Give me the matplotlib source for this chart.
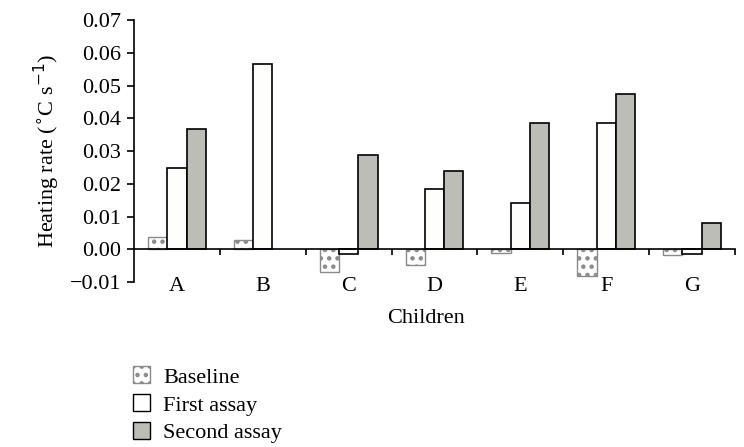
import numpy as np
import matplotlib
matplotlib.use('Agg')
import matplotlib.pyplot as plt
from matplotlib.patches import Patch

plt.rcParams['font.family'] = ['Liberation Serif', 'DejaVu Serif']
plt.rcParams['hatch.color'] = '#8a8a8a'
plt.rcParams['hatch.linewidth'] = 2.0

children = ['A', 'B', 'C', 'D', 'E', 'F', 'G']
baseline = [0.0037, 0.0028, -0.0070, -0.0049, -0.0012, -0.0080, -0.0017]
first_assay = [0.0248, 0.0566, -0.0015, 0.0183, 0.0141, 0.0385, -0.0013]
second_assay = [0.0367, 0.0, 0.0288, 0.0239, 0.0385, 0.0474, 0.0080]

fig = plt.figure(figsize=(7.44, 4.47), dpi=100)
ax = fig.add_axes([0.180, 0.369, 0.808, 0.586])

x = np.arange(len(children))
w = 0.225
ax.bar(x - w, baseline, w, facecolor='white', edgecolor='#8a8a8a', hatch='..', lw=1.0)
ax.bar(x, first_assay, w, facecolor='#fefefc', edgecolor='black', lw=1.2)
sec = ax.bar(x + w, second_assay, w, facecolor='#bdbdb8', edgecolor='black', lw=1.2)
# B has no second assay bar
sec[1].set_visible(False)

ax.set_xlim(-0.5, 6.5)
ax.set_ylim(-0.01, 0.07)
ax.set_yticks(np.arange(-0.01, 0.071, 0.01))
ax.set_yticklabels(['\u22120.01'] + ['%.2f' % v for v in np.arange(0, 0.071, 0.01)])
ax.spines['top'].set_visible(False)
ax.spines['right'].set_visible(False)
ax.spines['bottom'].set_position(('data', 0))
ax.spines['left'].set_linewidth(1.2)
ax.spines['bottom'].set_linewidth(1.2)

ax.set_xticks(x)
ax.set_xticklabels(children)
ax.set_xticks(np.arange(0.5, 7, 1), minor=True)
ax.tick_params(axis='x', which='major', length=0, pad=20, labelsize=16)
ax.tick_params(axis='x', which='minor', length=4, width=1.2, direction='out')
ax.tick_params(axis='y', length=5, width=1.2, labelsize=16, pad=4)

ax.set_ylabel('Heating rate ($^{\\circ}$C s$^{-1}$)', fontsize=16, labelpad=6)
fig.text(0.572, 0.288, 'Children', ha='center', va='center', fontsize=16)

handles = [Patch(facecolor='white', edgecolor='#8a8a8a', hatch='..', label='Baseline'),
           Patch(facecolor='white', edgecolor='black', label='First assay'),
           Patch(facecolor='#bdbdb8', edgecolor='black', label='Second assay')]
fig.legend(handles=handles, loc='upper left', bbox_to_anchor=(0.164, 0.205),
           frameon=False, fontsize=16, handlelength=0.75, handleheight=0.8,
           handletextpad=0.6, labelspacing=0.3, borderpad=0)

fig.savefig('out.png', dpi=100)
